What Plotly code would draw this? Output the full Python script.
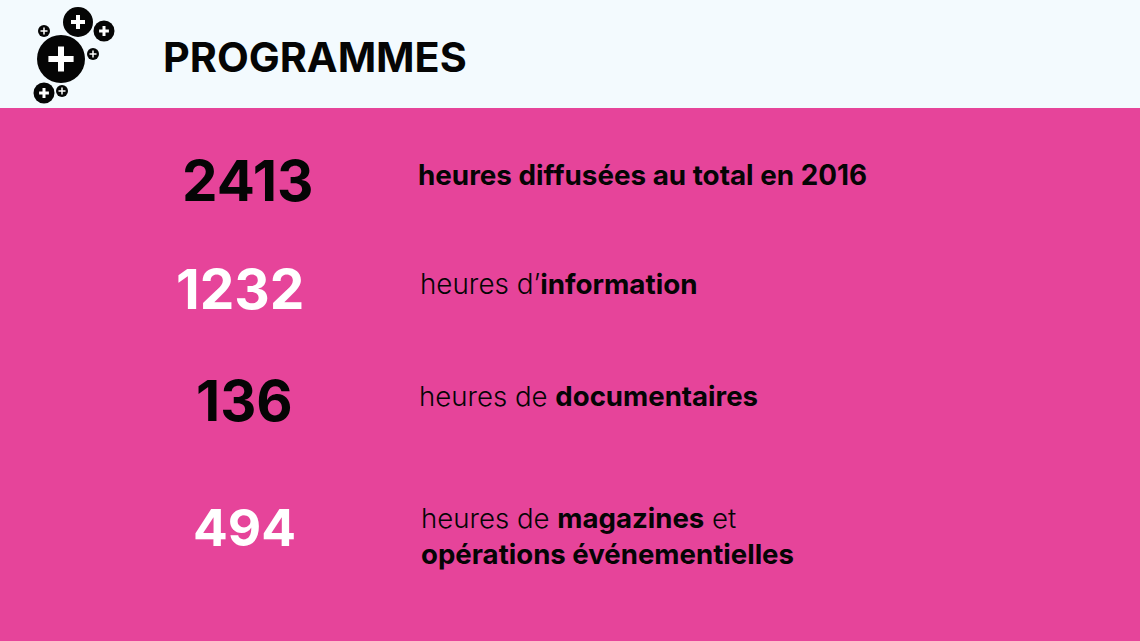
import plotly.graph_objects as go

title = "PROGRAMMES"
values = ["2413", "1232", "136", "494"]
value_colors = ["#050505", "#ffffff", "#050505", "#ffffff"]
captions = [
    "<b>heures diffusées au total en 2016</b>",
    "heures d’<b>information</b>",
    "heures de <b>documentaires</b>",
    "heures de <b>magazines</b> et<br><b>opérations événementielles</b>",
]

PINK = "#E6449A"
HEAD = "#F3FAFE"
FONT = "Inter"

value_x = [248, 240, 244.5, 244]
value_y = [180, 289, 401, 527]
value_size = [56.5, 55, 56, 51.5]
caption_x = [416, 418, 417, 419]
caption_y = [175, 284, 396, 536]
caption_size = [27.8, 27.8, 27.6, 27.6]

logo_x = [61, 78, 104, 44, 93, 44, 62]
logo_y = [59, 22, 31, 31, 54, 93, 91]
logo_d = [48, 30, 21, 12, 12, 21, 12]
plus_d = [18, 10, 7, 5, 5, 7, 5]
plus_w = [6, 4, 3, 1.5, 1.5, 3, 1.5]

fig = go.Figure()
fig.add_trace(go.Scatter(
    x=logo_x, y=logo_y, mode="markers", hoverinfo="skip",
    marker=dict(size=logo_d, color="#050505", opacity=1, line=dict(width=0)),
))
for x, y, d, w in zip(logo_x, logo_y, plus_d, plus_w):
    fig.add_trace(go.Scatter(
        x=[x], y=[y], mode="markers", hoverinfo="skip",
        marker=dict(symbol="cross-thin", size=d, opacity=1, line=dict(width=w, color="#ffffff")),
    ))

fig.add_shape(type="rect", xref="x", yref="y", x0=0, x1=1140, y0=108, y1=641,
              fillcolor=PINK, line_width=0, layer="below")

anns = [dict(x=161, y=57, text=f"<b>{title}</b>", xanchor="left", yanchor="middle",
             font=dict(family=FONT, size=41.3, color="#050505"))]
for t, c, x, y, s in zip(values, value_colors, value_x, value_y, value_size):
    anns.append(dict(x=x, y=y, text=f"<b>{t}</b>", xanchor="center", yanchor="middle",
                     font=dict(family=FONT, size=s, color=c)))
for t, x, y, s in zip(captions, caption_x, caption_y, caption_size):
    anns.append(dict(x=x, y=y, text=t, xanchor="left", yanchor="middle", align="left",
                     font=dict(family=FONT, size=s, color="#050505", weight=300)))
for a in anns:
    a.update(showarrow=False, xref="x", yref="y")

fig.update_layout(
    width=1140, height=641, margin=dict(l=0, r=0, t=0, b=0),
    paper_bgcolor=HEAD, plot_bgcolor=HEAD, showlegend=False,
    annotations=anns,
    xaxis=dict(range=[0, 1140], visible=False, fixedrange=True),
    yaxis=dict(range=[641, 0], visible=False, fixedrange=True),
)
fig.write_html("out.html", config={"displayModeBar": False},
               post_script="document.body.style.margin='0';document.documentElement.style.overflow='hidden';")
